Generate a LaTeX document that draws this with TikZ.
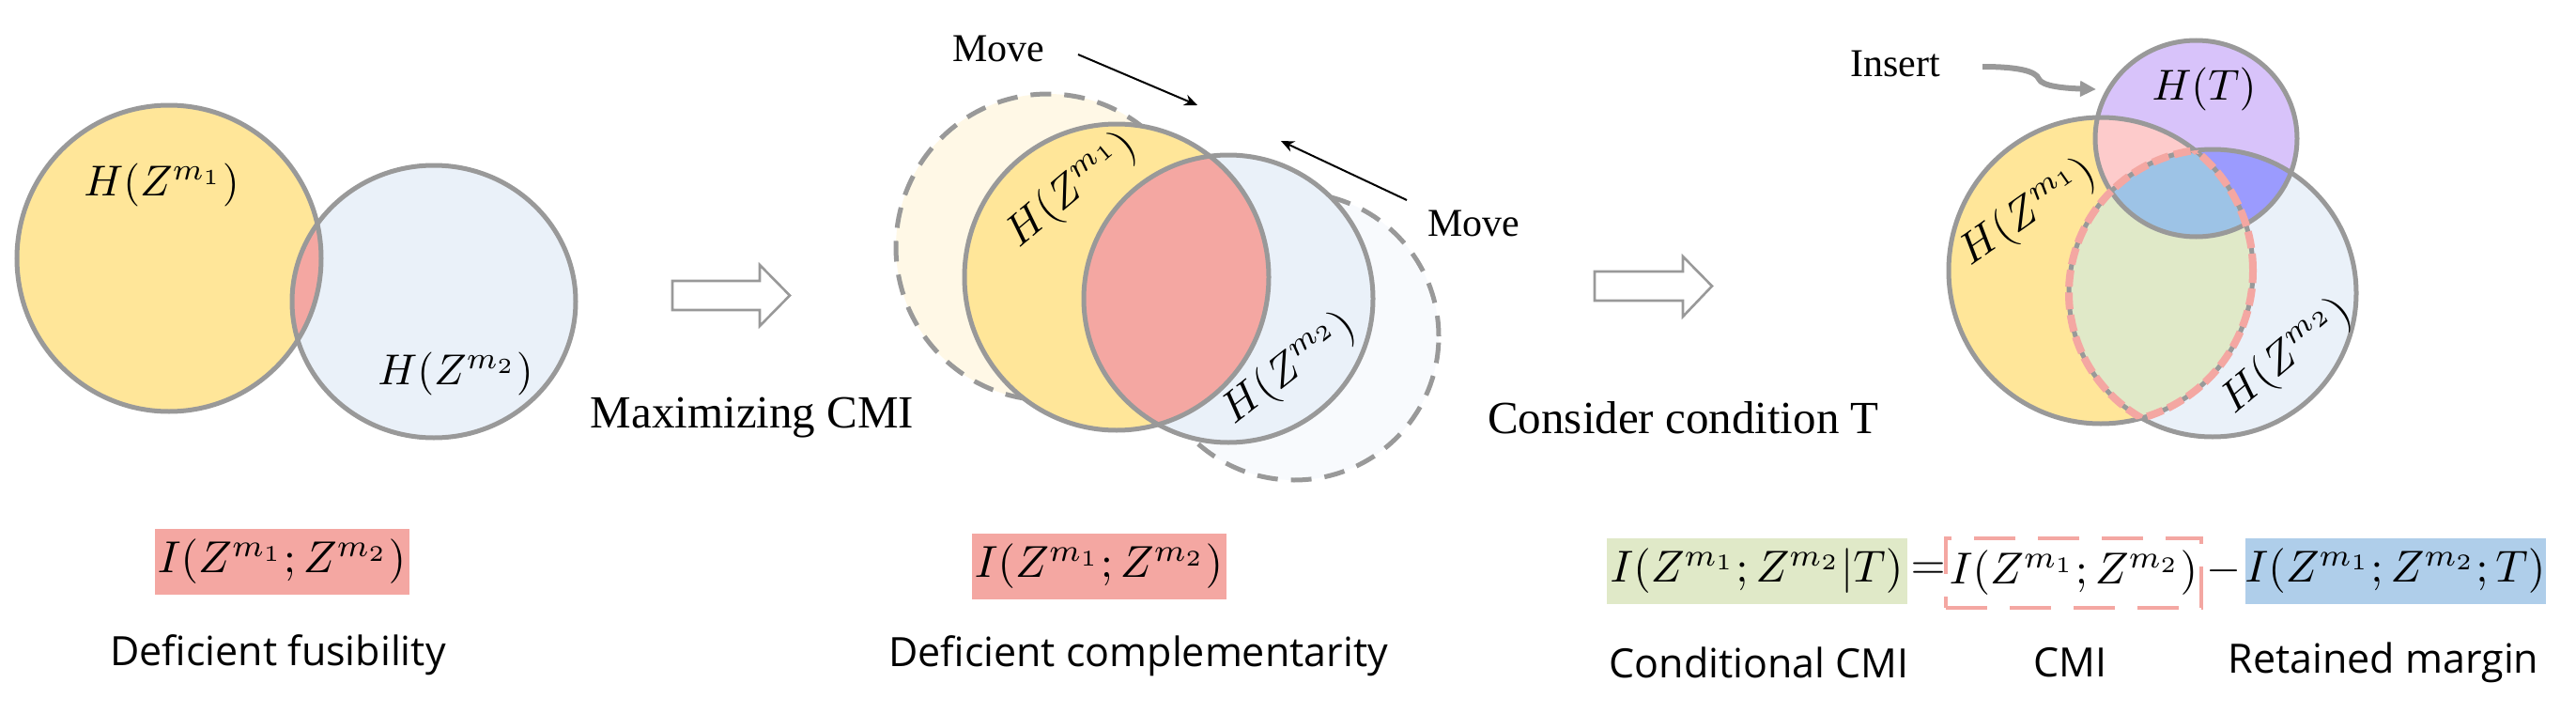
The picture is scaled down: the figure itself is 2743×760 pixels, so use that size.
\documentclass[tikz,border=0pt]{standalone}
\usepackage{graphicx}
\usepackage{fontspec}
\newfontfamily\tnr{Liberation Serif}
\newfontfamily\cas{Open Sans}
\usetikzlibrary{arrows.meta}
\definecolor{gr}{HTML}{999999}
\definecolor{yel}{HTML}{FFE699}
\definecolor{lblue}{HTML}{EAF1F9}
\definecolor{salm}{HTML}{F4A7A2}
\definecolor{gyel}{HTML}{FFF8E6}
\definecolor{gblue}{HTML}{F8FAFD}
\definecolor{lav}{HTML}{D8C3FA}
\definecolor{pinkr}{HTML}{FDCBCB}
\definecolor{midb}{HTML}{9DC3E6}
\definecolor{purb}{HTML}{9B9BFE}
\definecolor{lgreen}{HTML}{E0E9C8}
\definecolor{boxb}{HTML}{AFCEEA}
\newcommand{\mlarge}[1]{\scalebox{2.3}{$#1$}}
\newcommand{\mbig}[1]{\scalebox{2.38}{$#1$}}
\begin{document}
\begin{tikzpicture}[x=0.5pt,y=-0.5pt,
  outl/.style={draw=gr,line width=2.5pt},
  ghost/.style={draw=gr,line width=2.5pt,dash pattern=on 11pt off 7pt},
  lensd/.style={draw=salm,line width=4pt,dash pattern=on 9pt off 3pt},
  yr/.style={x radius=81pt,y radius=81.5pt},
  bonr/.style={x radius=75.5pt,y radius=72.5pt},
  btwr/.style={x radius=77pt,y radius=76.5pt},
  bthr/.style={x radius=76.5pt,y radius=76.5pt},
  tr/.style={x radius=53.75pt,y radius=52.25pt},
  mlab/.style={inner sep=0pt},
  tlab/.style={inner sep=0pt,font=\tnr\fontsize{24.5}{28}\selectfont},
  slab/.style={inner sep=0pt,font=\tnr\fontsize{21}{25}\selectfont},
  clab/.style={inner sep=0pt,font=\cas\fontsize{21.5}{26}\selectfont},
  mbox/.style={inner sep=0pt,minimum width=135.5pt,minimum height=35pt},
  mvarrow/.style={draw=black,line width=1pt,-{Stealth[length=7pt,width=6pt]}},
  insarrow/.style={draw=gr,line width=3pt,-{Triangle[length=8.5pt,width=8pt]}},
  hollow/.style={draw=gr,line width=1.3pt,fill=white}
]
\useasboundingbox (0,0) rectangle (2743,760);
% ---------- panel 1 ----------
\coordinate (cY1) at (180,275);
\coordinate (cB1) at (462,321);
\fill[yel] (cY1) ellipse[yr];
\fill[lblue] (cB1) ellipse[bonr];
\begin{scope}
  \clip (cY1) ellipse[yr];
  \fill[salm] (cB1) ellipse[bonr];
\end{scope}
\draw[outl] (cY1) ellipse[yr];
\draw[outl] (cB1) ellipse[bonr];
\node[mlab] (h1a) at (172,197) {\mlarge{H(Z^{m_1})}};
\node[mlab] (h1b) at (485,398) {\mlarge{H(Z^{m_2})}};
% hollow arrow 1
\draw[hollow] (716,299) -- (809,299) -- (809,282) -- (841,314.5) -- (809,347) -- (809,330) -- (716,330) -- cycle;
\node[tlab] (maxc) at (801,445) {Maximizing CMI};
% ---------- panel 2 ----------
\coordinate (cY2g) at (1116,263);
\coordinate (cB2g) at (1378,358);
\coordinate (cY2) at (1189,295);
\coordinate (cB2) at (1308,318);
\fill[gyel] (cY2g) ellipse[yr];
\draw[ghost] (cY2g) ellipse[yr];
\fill[gblue] (cB2g) ellipse[btwr];
\draw[ghost] (cB2g) ellipse[btwr];
\fill[yel] (cY2) ellipse[yr];
\fill[lblue] (cB2) ellipse[btwr];
\begin{scope}
  \clip (cY2) ellipse[yr];
  \fill[salm] (cB2) ellipse[btwr];
\end{scope}
\draw[outl] (cY2) ellipse[yr];
\draw[outl] (cB2) ellipse[btwr];
\node[mlab,rotate=40] (h2a) at (1141,203) {\mlarge{H(Z^{m_1})}};
\node[mlab,rotate=38] (h2b) at (1373,393) {\mlarge{H(Z^{m_2})}};
\node[slab] (mv1) at (1063,52) {Move};
\node[slab] (mv2) at (1569,238) {Move};
\coordinate (mv1s) at (1148,58);
\coordinate (mv1e) at (1275,112);
\coordinate (mv2s) at (1498,213);
\coordinate (mv2e) at (1364,150);
\draw[mvarrow] (mv1s) -- (mv1e);
\draw[mvarrow] (mv2s) -- (mv2e);
% hollow arrow 2
\draw[hollow] (1698,289) -- (1792,289) -- (1792,273) -- (1823,304.5) -- (1792,337) -- (1792,320) -- (1698,320) -- cycle;
\node[tlab] (cond) at (1792.5,445) {Consider condition T};
% ---------- panel 3 ----------
\coordinate (cY3) at (2237,288);
\coordinate (cB3) at (2356,312);
\coordinate (cT3) at (2338.5,147.5);
\fill[yel] (cY3) ellipse[yr];
\fill[lblue] (cB3) ellipse[bthr];
\fill[lav] (cT3) ellipse[tr];
\begin{scope}
  \clip (cY3) ellipse[yr];
  \fill[lgreen] (cB3) ellipse[bthr];
  \fill[pinkr] (cT3) ellipse[tr];
\end{scope}
\begin{scope}
  \clip (cB3) ellipse[bthr];
  \fill[purb] (cT3) ellipse[tr];
\end{scope}
\begin{scope}
  \clip (cY3) ellipse[yr];
  \clip (cB3) ellipse[bthr];
  \fill[midb] (cT3) ellipse[tr];
\end{scope}
\draw[outl] (cY3) ellipse[yr];
\draw[outl] (cB3) ellipse[bthr];
\draw[outl] (cT3) ellipse[tr];
\begin{scope}
  \clip (cB3) ellipse[bthr];
  \draw[lensd] (cY3) ellipse[yr];
\end{scope}
\begin{scope}
  \clip (cY3) ellipse[yr];
  \draw[lensd] (cB3) ellipse[bthr];
\end{scope}
\node[mlab,rotate=35] (h3a) at (2160,227) {\mlarge{H(Z^{m_1})}};
\node[mlab,rotate=40] (h3b) at (2435,380) {\mlarge{H(Z^{m_2})}};
\node[mlab] (h3t) at (2347,95) {\mlarge{H(T)}};
\node[slab] (ins) at (2018,68) {Insert};
\coordinate (ins0) at (2111,71);
\coordinate (ins1) at (2232,95);
\draw[insarrow] (ins0) .. controls (2150,71) and (2168,76) .. (2171,84) .. controls (2174,92) and (2200,94) .. (ins1);
% ---------- bottom ----------
\node[mbox,fill=salm] (i1) at (300,598) {\mbig{I(Z^{m_1};Z^{m_2})}};
\node[clab] (d1) at (296,697) {Deficient fusibility};
\node[mbox,fill=salm] (i2) at (1170,603) {\mbig{I(Z^{m_1};Z^{m_2})}};
\node[clab] (d2) at (1212,698) {Deficient complementarity};
\node[mbox,fill=lgreen,minimum width=160pt] (eqc) at (1870.5,607.5) {\mbig{I(Z^{m_1};Z^{m_2}|T)}};
\node[mbox,minimum width=0pt] (eqs) at (2053,608) {\mbig{=}};
\node[mbox,draw=salm,line width=2pt,dash pattern=on 22pt off 12pt,minimum width=136pt,minimum height=37pt] (eqm) at (2208,610) {\mbig{I(Z^{m_1};Z^{m_2})}};
\node[mbox,minimum width=0pt] (eqn) at (2368,608) {\mbig{-}};
\node[mbox,fill=boxb,minimum width=160pt] (eqr) at (2550.5,607.5) {\mbig{I(Z^{m_1};Z^{m_2};T)}};
\node[clab] (l1) at (1873,705) {Conditional CMI};
\node[clab] (l2) at (2204,705) {CMI};
\node[clab] (l3) at (2538,705) {Retained margin};
\end{tikzpicture}
\end{document}
